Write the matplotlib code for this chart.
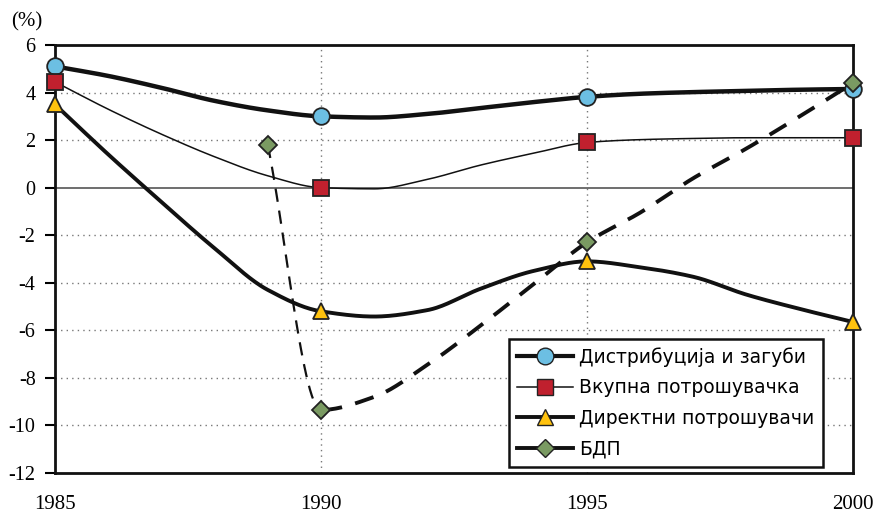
import numpy as np
import matplotlib
matplotlib.use('Agg')
import matplotlib.pyplot as plt
from matplotlib.lines import Line2D

# values (annual, markers every five years)
years = list(range(1985, 2001))
distrib = [5.1, 4.7, 4.2, 3.65, 3.25, 3.0, 2.95, 3.1, 3.35, 3.6, 3.82, 3.95, 4.02, 4.07, 4.12, 4.15]
vkupna = [4.45, 3.3, 2.25, 1.3, 0.5, 0.0, -0.05, 0.35, 0.95, 1.45, 1.9, 2.02, 2.07, 2.1, 2.1, 2.1]
direktni = [3.5, 1.4, -0.6, -2.55, -4.3, -5.2, -5.42, -5.15, -4.25, -3.5, -3.1, -3.35, -3.75, -4.5, -5.1, -5.65]
bdp_years = list(range(1989, 2001))
bdp = [1.8, -9.35, -8.8, -7.45, -5.8, -4.05, -2.3, -1.05, 0.4, 1.65, 3.0, 4.4]

labels = ['Дистрибуција и загуби', 'Вкупна потрошувачка',
          'Директни потрошувачи', 'БДП']
marker_years = [1985, 1990, 1995, 2000]
bdp_marker_years = [1989, 1990, 1995, 2000]


def smooth(x, y, n=30):
    # monotone cubic through the points, only to draw a smooth line
    x = np.asarray(x, float)
    y = np.asarray(y, float)
    h = np.diff(x)
    d = np.diff(y) / h
    m = np.zeros_like(y)
    for i in range(1, len(y) - 1):
        if d[i - 1] * d[i] > 0:
            w1 = 2 * h[i] + h[i - 1]
            w2 = h[i] + 2 * h[i - 1]
            m[i] = (w1 + w2) / (w1 / d[i - 1] + w2 / d[i])
    m[0] = d[0]
    m[-1] = d[-1]
    xs, ys = [], []
    t = np.linspace(0, 1, n)
    for i in range(len(x) - 1):
        h00 = 2 * t**3 - 3 * t**2 + 1
        h10 = t**3 - 2 * t**2 + t
        h01 = -2 * t**3 + 3 * t**2
        h11 = t**3 - t**2
        seg = h00 * y[i] + h10 * h[i] * m[i] + h01 * y[i + 1] + h11 * h[i] * m[i + 1]
        st = 0 if i == 0 else 1
        xs.append((x[i] + t * h[i])[st:])
        ys.append(seg[st:])
    return np.concatenate(xs), np.concatenate(ys)


def pick(xs, ys, keep):
    return [x for x in xs if x in keep], [y for x, y in zip(xs, ys) if x in keep]


fig = plt.figure(figsize=(8.77, 5.15), dpi=100)
ax = fig.add_axes([0.0627, 0.0816, 0.9099, 0.831])

ax.set_xlim(1985, 2000)
ax.set_ylim(-12, 6)

# grid
for yv in [-10, -8, -6, -4, -2, 2, 4]:
    ax.axhline(yv, color='#777777', lw=1, ls=(0, (1, 3)), zorder=1)
for xv in [1990, 1995]:
    ax.axvline(xv, color='#777777', lw=1, ls=(0, (1, 3)), zorder=1)
ax.axhline(0, color='#555555', lw=1.2, zorder=1)

ec = '#222222'
# Дистрибуција и загуби
sx, sy = smooth(years, distrib)
ax.plot(sx, sy, color='#111111', lw=3.2, zorder=3, solid_capstyle='round')
mx, my = pick(years, distrib, marker_years)
ax.plot(mx, my, ls='none', marker='o', ms=12, mfc='#6cbfe3', mec=ec, mew=1.3, zorder=6, clip_on=False)

# Вкупна потрошувачка
sx, sy = smooth(years, vkupna)
ax.plot(sx, sy, color='#111111', lw=1.1, zorder=3)
mx, my = pick(years, vkupna, marker_years)
ax.plot(mx, my, ls='none', marker='s', ms=11, mfc='#c0202e', mec=ec, mew=1.3, zorder=6, clip_on=False)

# Директни потрошувачи
sx, sy = smooth(years, direktni)
ax.plot(sx, sy, color='#111111', lw=2.8, zorder=3)
mx, my = pick(years, direktni, marker_years)
ax.plot(mx, my, ls='none', marker='^', ms=12, mfc='#ffc20e', mec=ec, mew=1.3, zorder=6, clip_on=False)

# БДП
sx, sy = smooth(bdp_years, bdp)
first = sx <= 1990
ax.plot(sx[first], sy[first], color='#111111', lw=1.6, ls=(0, (6, 4)), zorder=3)
ax.plot(sx[~first], sy[~first], color='#111111', lw=2.8, ls=(0, (5, 3.5)), zorder=3)
mx, my = pick(bdp_years, bdp, bdp_marker_years)
ax.plot(mx, my, ls='none', marker='D', ms=9, mfc='#7a9a62', mec=ec, mew=1.3, zorder=7, clip_on=False)

# axes styling
for sp in ax.spines.values():
    sp.set_linewidth(2)
    sp.set_color('#111111')

ax.set_yticks(range(-12, 7, 2))
ax.set_yticklabels([str(v) for v in range(-12, 7, 2)])
ax.set_xticks(marker_years)
ax.set_xticklabels([str(v) for v in marker_years])
ax.tick_params(axis='y', direction='out', length=7, width=1.5, pad=7, labelsize=14.5)
ax.tick_params(axis='x', length=0, pad=16, labelsize=15)
for lab in ax.get_yticklabels() + ax.get_xticklabels():
    lab.set_fontfamily('Liberation Serif')

fig.text(0.03, 0.957, '(%)', fontsize=15, family='Liberation Serif', ha='center', va='center')

handles = [
    Line2D([], [], color='#111111', lw=3, marker='o', ms=12, mfc='#6cbfe3', mec=ec),
    Line2D([], [], color='#111111', lw=1.1, marker='s', ms=11, mfc='#c0202e', mec=ec),
    Line2D([], [], color='#111111', lw=2.8, marker='^', ms=12, mfc='#ffc20e', mec=ec),
    Line2D([], [], color='#111111', lw=2.8, marker='D', ms=9, mfc='#7a9a62', mec=ec),
]
leg = ax.legend(handles, labels, loc='lower right', bbox_to_anchor=(0.962, 0.014),
                borderaxespad=0, handlelength=3.0, handletextpad=0.3, labelspacing=0.62,
                fontsize=13.5, fancybox=False, framealpha=1, edgecolor='#111111',
                borderpad=0.45)
leg.get_frame().set_linewidth(1.8)
leg.set_zorder(10)

plt.savefig('out.png', dpi=100)
